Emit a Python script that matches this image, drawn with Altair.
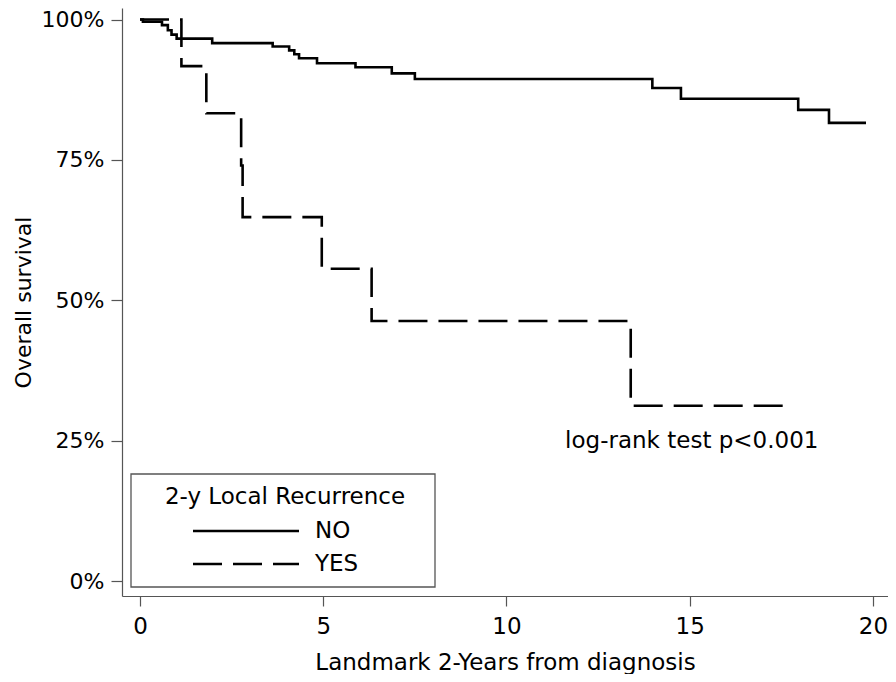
import altair as alt
import pandas as pd

# ---------------- data ----------------
groups = ["NO", "YES"]
no_time = [0, 0.08, 0.6, 0.76, 0.86, 1.0, 1.97, 3.62, 4.07, 4.21, 4.34, 4.83,
           5.88, 6.87, 7.5, 13.98, 14.76, 17.96, 18.80, 19.81]
no_surv = [100, 99.6, 99.0, 98.1, 97.3, 96.6, 95.8, 95.2, 94.5, 93.8, 93.1, 92.2,
           91.5, 90.4, 89.4, 87.8, 85.9, 83.9, 81.6, 81.6]
yes_time = [0, 1.13, 1.81, 2.76, 2.80, 4.96, 6.32, 13.39, 17.72]
yes_surv = [100, 91.7, 83.3, 74.0, 64.8, 55.6, 46.3, 31.2, 31.2]

x_ticks = [0, 5, 10, 15, 20]
y_ticks = [0, 0.25, 0.5, 0.75, 1.0]
x_title = "Landmark 2-Years from diagnosis"
y_title = "Overall survival"
legend_title = "2-y Local Recurrence"
dash_patterns = [[1, 0], [29, 11]]
annotation_text = ["log-rank test p<0.001"]
annotation_time = [11.6]
annotation_surv = [0.25]

# ---------------- tables ----------------
df = pd.concat([
    pd.DataFrame({"group": groups[0], "time": no_time, "surv": [v / 100 for v in no_surv]}),
    pd.DataFrame({"group": groups[1], "time": yes_time, "surv": [v / 100 for v in yes_surv]}),
], ignore_index=True)
ann_df = pd.DataFrame({"time": annotation_time, "surv": annotation_surv, "label": annotation_text})

FONT = "DejaVu Sans"
FS = 23
W, H = 766, 588
LW = 2.6
GRAY = "#555555"

x_scale = alt.Scale(domain=[-0.491, 20.41], nice=False, zero=False)
y_scale = alt.Scale(domain=[-0.0267, 1.0205], nice=False, zero=False)
dash_scale = alt.Scale(domain=groups, range=dash_patterns)

x_enc = alt.X("time:Q", scale=x_scale, title=x_title,
              axis=alt.Axis(values=x_ticks, tickSize=10, labelPadding=9, titlePadding=13,
                            format="d"))
y_enc = alt.Y("surv:Q", scale=y_scale, title=y_title,
              axis=alt.Axis(values=y_ticks, format=".0%", tickSize=11, labelPadding=7,
                            labelFontSize=22, titlePadding=6, titleFontSize=22))

lines = alt.Chart(df).mark_line(
    interpolate="step-after", color="black", strokeWidth=LW, strokeCap="butt"
).encode(
    x=x_enc,
    y=y_enc,
    strokeDash=alt.StrokeDash("group:N", scale=dash_scale, legend=None),
)

ann = alt.Chart(ann_df).mark_text(
    align="left", baseline="middle", font=FONT, fontSize=FS, color="black"
).encode(x=x_enc, y=y_enc, text="label:N")

# ---------------- hand-drawn legend box ----------------
one = pd.DataFrame({"k": [0]})
box = alt.Chart(one).mark_rect(fill="white", stroke=GRAY, strokeWidth=1.3).encode(
    x=alt.value(9), x2=alt.value(313), y=alt.value(466), y2=alt.value(579)
)
leg_title = alt.Chart(one).mark_text(
    align="center", baseline="middle", font=FONT, fontSize=FS, color="black"
).encode(x=alt.value(163), y=alt.value(489), text=alt.value(legend_title))

legend_layers = []
row_y = [523, 556]
for g, dash, yy in zip(groups, dash_patterns, row_y):
    legend_layers.append(
        alt.Chart(one).mark_rule(color="black", strokeWidth=LW, strokeCap="butt").encode(
            x=alt.value(71), x2=alt.value(177), y=alt.value(yy), strokeDash=alt.value(dash)
        )
    )
    legend_layers.append(
        alt.Chart(one).mark_text(
            align="left", baseline="middle", font=FONT, fontSize=FS, color="black"
        ).encode(x=alt.value(193), y=alt.value(yy), text=alt.value(g))
    )

chart = alt.layer(lines, ann, box, leg_title, *legend_layers).properties(
    width=W,
    height=H,
    padding={"left": 114, "top": 0, "right": 0, "bottom": 78},
    autosize=alt.AutoSizeParams(type="none"),
    background="white",
).configure_view(stroke=None).configure_axis(
    grid=False,
    domainColor=GRAY,
    tickColor=GRAY,
    domainWidth=1.2,
    tickWidth=1.2,
    labelFont=FONT,
    titleFont=FONT,
    labelFontSize=FS,
    titleFontSize=FS,
    labelColor="black",
    titleColor="black",
    titleFontWeight="normal",
)

chart.save("out.html", embed_options={"renderer": "svg", "actions": False})
